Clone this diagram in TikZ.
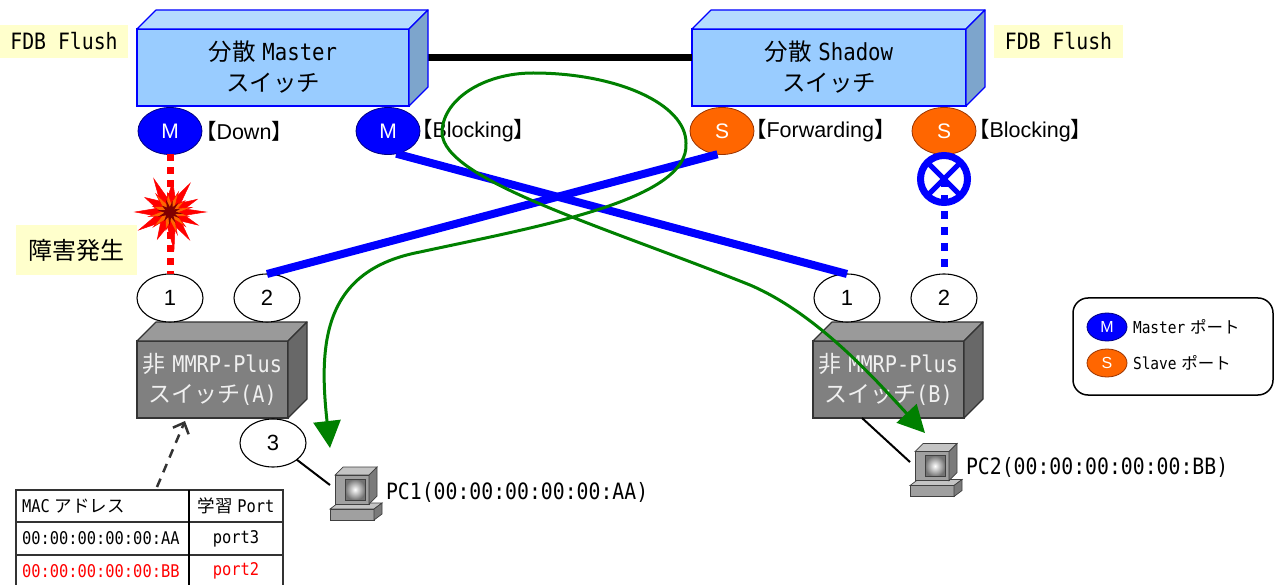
\documentclass[tikz,border=0pt]{standalone}
\usepackage{fontspec}
\setmainfont{Liberation Sans}
\newfontfamily\jp{Noto Sans CJK JP}
\newfontfamily\gm[FakeStretch=0.88]{DejaVu Sans Mono}
\usetikzlibrary{arrows.meta,shapes.geometric}

\definecolor{swblue}{HTML}{99CCFF}
\definecolor{swbluetop}{HTML}{B5DBFF}
\definecolor{swblueside}{HTML}{7DA5CC}
\definecolor{swblueline}{HTML}{0000FF}
\definecolor{swgray}{HTML}{808080}
\definecolor{swgraytop}{HTML}{9A9A9A}
\definecolor{swgrayside}{HTML}{686868}
\definecolor{swgrayline}{HTML}{333333}
\definecolor{noteyellow}{HTML}{FFFFCC}
\definecolor{portM}{HTML}{0000FF}
\definecolor{portMline}{HTML}{000080}
\definecolor{portS}{HTML}{FF6600}
\definecolor{portSline}{HTML}{993300}
\definecolor{flowgreen}{HTML}{008000}
\definecolor{pcedge}{HTML}{404040}
\definecolor{pcfront}{HTML}{A0A0A0}
\definecolor{pctop}{HTML}{C4C4C4}
\definecolor{pcside}{HTML}{7A7A7A}
\definecolor{boomred}{HTML}{FF0000}
\definecolor{boomorange}{HTML}{FF6600}
\definecolor{boomdark}{HTML}{800000}

% top and right faces of a 3-D box drawn around a front-face node
\newcommand\cubefaces[4]{%
  \filldraw[draw=#4, fill=#2, line width=1.2pt, line join=round]
    (#1.north west) -- (#1.north east) -- ++(19,-19)
    -- ([shift={(19,-19)}]#1.north west) -- cycle;
  \filldraw[draw=#4, fill=#3, line width=1.2pt, line join=round]
    (#1.north east) -- ++(19,-19)
    -- ([shift={(19,-19)}]#1.south east) -- (#1.south east) -- cycle;
}

\tikzset{
  pcicon/.pic={
    \filldraw[draw=pcedge, fill=pctop, line width=0.7pt] (0,42) -- (8,36) -- (52,36) -- (44,42) -- cycle;
    \filldraw[draw=pcedge, fill=pcfront, line width=0.7pt] (0,42) rectangle (44,53);
    \filldraw[draw=pcedge, fill=pcside, line width=0.7pt] (44,42) -- (52,36) -- (52,47) -- (44,53) -- cycle;
    \filldraw[draw=pcedge, fill=pctop, line width=0.7pt] (5,8) -- (13,0) -- (47,0) -- (39,8) -- cycle;
    \filldraw[draw=pcedge, fill=pcfront, line width=0.7pt] (5,8) rectangle (39,37);
    \filldraw[draw=pcedge, fill=pcside, line width=0.7pt] (39,8) -- (47,0) -- (47,29) -- (39,37) -- cycle;
    \shadedraw[draw=pcedge, line width=0.7pt, inner color=white, outer color=black!55] (15,12) rectangle (35,33);
  }
}

\begin{document}
\begin{tikzpicture}[x=1pt,y=-1pt,
  every node/.style={inner sep=0pt, outer sep=0pt},
  note/.style={fill=noteyellow},
  fdb/.style={note, font=\gm\fontsize{22.5pt}{26pt}\selectfont},
  bluebox/.style={draw=swblueline, fill=swblue, line width=1.2pt, minimum height=77pt,
    align=center, font=\fontsize{23.5pt}{31pt}\selectfont},
  graybox/.style={draw=swgrayline, fill=swgray, line width=1.2pt, minimum height=77pt,
    minimum width=151pt, align=center, text=white!94!black, font=\fontsize{23pt}{30pt}\selectfont},
  mport/.style={ellipse, draw=portMline, fill=portM, line width=0.8pt, minimum width=64pt,
    minimum height=47pt, text=white, font=\fontsize{21pt}{25pt}\selectfont},
  sport/.style={mport, draw=portSline, fill=portS},
  state/.style={anchor=west, font=\fontsize{21.5pt}{25pt}\selectfont},
  numport/.style={ellipse, draw=black, fill=white, line width=1.1pt, minimum width=66pt,
    minimum height=48pt, font=\fontsize{22pt}{26pt}\selectfont},
  blueline/.style={draw=portM, line width=8pt},
  reddot/.style={draw=boomred, line width=7pt, dash pattern=on 7pt off 6pt},
  bluedot/.style={draw=portM, line width=7pt, dash pattern=on 8pt off 8pt},
  tbltext/.style={font=\fontsize{17.5pt}{20pt}\selectfont},
  pclabel/.style={anchor=west, font=\gm\fontsize{22.5pt}{26pt}\selectfont},
  pcnode/.style={minimum width=52pt, minimum height=53pt},
  lgtext/.style={anchor=west, font=\fontsize{16.5pt}{20pt}\selectfont},
  lgport/.style={ellipse, line width=0.8pt, minimum width=40pt, minimum height=28pt,
    text=white, font=\fontsize{16pt}{20pt}\selectfont},
  flow/.style={draw=flowgreen, line width=3pt,
    {Triangle[length=27pt,width=27pt]}-{Triangle[length=27pt,width=27pt]}},
  hint/.style={draw=black!80, line width=2.5pt, dash pattern=on 9pt off 7pt,
    -{Straight Barb[length=9pt,width=17pt]}}
]
\useasboundingbox (0,0) rectangle (1274,585);
\fill[white] (0,0) rectangle (1274,585);

% side notes
\node[fdb, minimum width=128pt, minimum height=33pt] (fdbL) at (64,41.5) {FDB Flush};
\node[fdb, minimum width=129pt, minimum height=33pt] (fdbR) at (1058.5,41.5) {FDB Flush};
\node[note, minimum width=121pt, minimum height=50pt, font=\jp\fontsize{24pt}{28pt}\selectfont]
  (fault) at (76.5,250) {障害発生};

% distributed switches
\coordinate (linkA) at (428,58);
\node[bluebox, minimum width=272pt] (master) at (273,67.5)
  {{\jp 分散} {\gm Master}\\{\jp スイッチ}};
\node[bluebox, minimum width=274pt] (shadow) at (829,67.5)
  {{\jp 分散} {\gm Shadow}\\{\jp スイッチ}};
\draw[line width=7pt] (linkA) -- (linkA -| shadow.west);
\cubefaces{master}{swbluetop}{swblueside}{swblueline}
\cubefaces{shadow}{swbluetop}{swblueside}{swblueline}

% ring ports and their states
\node[mport] (m1) at (170,131) {M};
\node[mport] (m2) at (388,131) {M};
\node[sport] (s1) at (722,131) {S};
\node[sport] (s2) at (944,131) {S};
\node[state] (m1st) at (195,131) {{\jp 【}Down{\jp 】}};
\node[state] (m2st) at (411,131) {{\jp 【}Blocking{\jp 】}};
\node[state] (s1st) at (745,131) {{\jp 【}Forwarding{\jp 】}};
\node[state] (s2st) at (968,131) {{\jp 【}Blocking{\jp 】}};

% non MMRP-Plus switches
\node[graybox] (swA) at (212.5,379.5) {{\jp 非} {\gm MMRP-Plus}\\{\jp スイッチ}{\gm (A)}};
\node[graybox] (swB) at (888.5,379.5) {{\jp 非} {\gm MMRP-Plus}\\{\jp スイッチ}{\gm (B)}};
\cubefaces{swA}{swgraytop}{swgrayside}{swgrayline}
\cubefaces{swB}{swgraytop}{swgrayside}{swgrayline}

\node[numport] (a1) at (170,298) {1};
\node[numport] (a2) at (267,298) {2};
\node[numport] (a3) at (273,443) {3};
\node[numport] (b1) at (847,298) {1};
\node[numport] (b2) at (944,298) {2};

% links
\draw[blueline] (m2.-70) -- (b1.north);
\draw[blueline] (a2.north) -- (s1.-101);
\draw[reddot] (m1.south) -- (a1.north);

% blocked port mark
\node[circle, draw=portM, fill=white, line width=7pt, minimum size=47pt] (xc) at (944,179) {};
\draw[portM, line width=5pt] (xc.center) +(45:21) -- +(225:21);
\draw[portM, line width=5pt] (xc.center) +(135:21) -- +(-45:21);
\draw[bluedot] (xc.center) -- (b2.north);

% link failure burst
\coordinate (boom) at (170,212);
\begin{scope}[shift={(boom)}]
  \filldraw[fill=boomred, draw=boomred, line width=0.5pt]
    (0:36) -- (13:15) -- (25:31) -- (40:14) -- (55:34) -- (70:15) -- (84:38) -- (100:15)
    -- (115:30) -- (132:14) -- (150:36) -- (165:15) -- (180:35) -- (195:14) -- (210:29)
    -- (227:15) -- (244:37) -- (260:14) -- (275:31) -- (290:15) -- (305:35) -- (320:14)
    -- (335:30) -- (348:15) -- cycle;
  \begin{scope}[rotate=12, scale=0.62]
  \filldraw[fill=boomorange, draw=boomred, line width=0.5pt]
    (0:36) -- (13:15) -- (25:31) -- (40:14) -- (55:34) -- (70:15) -- (84:38) -- (100:15)
    -- (115:30) -- (132:14) -- (150:36) -- (165:15) -- (180:35) -- (195:14) -- (210:29)
    -- (227:15) -- (244:37) -- (260:14) -- (275:31) -- (290:15) -- (305:35) -- (320:14)
    -- (335:30) -- (348:15) -- cycle;
  \end{scope}
  \begin{scope}[rotate=-8, scale=0.36]
  \fill[boomdark]
    (0:36) -- (13:15) -- (25:31) -- (40:14) -- (55:34) -- (70:15) -- (84:38) -- (100:15)
    -- (115:30) -- (132:14) -- (150:36) -- (165:15) -- (180:35) -- (195:14) -- (210:29)
    -- (227:15) -- (244:37) -- (260:14) -- (275:31) -- (290:15) -- (305:35) -- (320:14)
    -- (335:30) -- (348:15) -- cycle;
  \end{scope}
\end{scope}

% terminals
\node[pcnode] (pc1) at (356,493.5) {};
\pic at (pc1.north west) {pcicon};
\node[pclabel] (pc1lbl) at (386,492) {PC1(00:00:00:00:00:AA)};
\node[pcnode] (pc2) at (936,470) {};
\pic at (pc2.north west) {pcicon};
\node[pclabel] (pc2lbl) at (966,467) {PC2(00:00:00:00:00:BB)};
\draw[line width=2pt] (a3.-35) -- (pc1.162);
\draw[line width=2pt] ([xshift=-26.5pt]swB.south) -- (pc2.163);

% learned address table of switch A
\draw[black!80, line width=1.2pt] (16,490) rectangle (283,600);
\draw[black!80, line width=1.2pt] (16,522) -- (283,522);
\draw[black!80, line width=1.2pt] (16,555) -- (283,555);
\draw[black, line width=2pt] (189,490) -- (189,600);
\node[tbltext, anchor=west] (th1) at (22,506) {{\gm MAC} {\jp アドレス}};
\node[tbltext] (th2) at (236,506) {{\jp 学習} {\gm Port}};
\node[tbltext, anchor=west] (r1a) at (22,538.5) {\gm 00:00:00:00:00:AA};
\node[tbltext] (r1b) at (236,538.5) {\gm port3};
\node[tbltext, anchor=west, text=red] (r2a) at (22,571) {\gm 00:00:00:00:00:BB};
\node[tbltext, text=red] (r2b) at (236,571) {\gm port2};
\coordinate (tblTop) at (157,487);
\coordinate (swAin) at (185,421);
\draw[hint] (tblTop) -- (swAin);

% legend
\node[draw, rounded corners=15pt, line width=1.5pt, minimum width=200pt, minimum height=97pt]
  (legend) at (1173,346.5) {};
\node[lgport, draw=portMline, fill=portM] (lgm) at (1107,327) {M};
\node[lgtext] (lgmt) at (1133,327) {{\gm Master} {\jp ポート}};
\node[lgport, draw=portSline, fill=portS] (lgs) at (1107,363) {S};
\node[lgtext] (lgst) at (1133,363) {{\gm Slave} {\jp ポート}};

% traffic path between the terminals
\coordinate (g1) at (330,448);
\coordinate (g2) at (925,433);
\draw[flow] (g1) .. controls (318,340) and (325,270) .. (420,252)
  .. controls (540,226) and (690,200) .. (686,143)
  .. controls (686,104) and (617,73) .. (533,73)
  .. controls (483,73) and (442,100) .. (442,133)
  .. controls (444,180) and (600,225) .. (750,285)
  .. controls (820,315) and (880,385) .. (g2);
\end{tikzpicture}
\end{document}
